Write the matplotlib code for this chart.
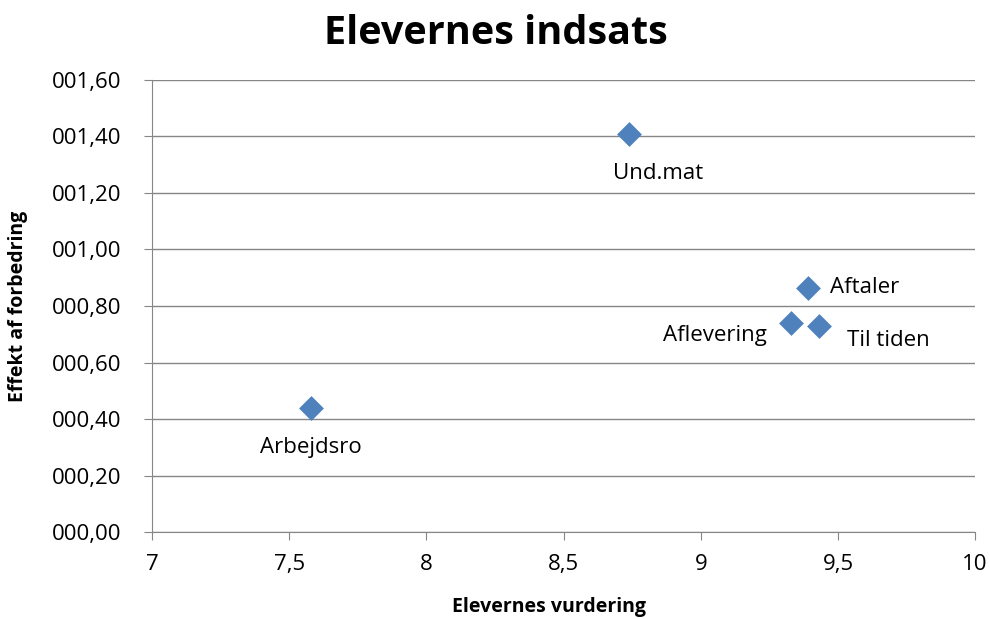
import matplotlib.pyplot as plt
from matplotlib.ticker import FuncFormatter, MultipleLocator

# data
labels = ["Und.mat", "Aftaler", "Aflevering", "Til tiden", "Arbejdsro"]
vurdering = [8.74, 9.39, 9.33, 9.43, 7.58]
effekt = [1.41, 0.865, 0.74, 0.73, 0.44]

# label offsets in pixels (dx, dy, ha)
offsets = [(29, -40, "center"), (22, 0, "left"), (-24, -13, "right"), (28, -15, "left"), (0, -40, "center")]

plt.rcParams['font.family'] = ['Open Sans', 'DejaVu Sans']

fig = plt.figure(figsize=(9.9, 6.19), dpi=100)
ax = fig.add_axes([0.1535, 0.1405, 0.985 - 0.1535, 0.8708 - 0.1405])

ax.scatter(vurdering, effekt, marker='D', s=160, color='#4F81BD', zorder=3, linewidths=0)

for name, x, y, (dx, dy, ha) in zip(labels, vurdering, effekt, offsets):
    ax.annotate(name, (x, y), xytext=(dx, dy), textcoords='offset pixels',
                ha=ha, va='center', fontsize=16, color='black')

ax.set_xlim(7, 10)
ax.set_ylim(0, 1.6)
ax.xaxis.set_major_locator(MultipleLocator(0.5))
ax.yaxis.set_major_locator(MultipleLocator(0.2))
ax.xaxis.set_major_formatter(FuncFormatter(lambda v, p: f"{v:g}".replace('.', ',')))
ax.yaxis.set_major_formatter(FuncFormatter(lambda v, p: f"{v:06.2f}".replace('.', ',')))

ax.grid(axis='y', color='#868686', linewidth=1)
ax.set_axisbelow(True)
for s in ['top', 'right']:
    ax.spines[s].set_visible(False)
for s in ['left', 'bottom']:
    ax.spines[s].set_color('#868686')
ax.tick_params(colors='#868686', labelcolor='black', labelsize=16, length=6, direction='out')
ax.tick_params(axis='y', pad=16)
ax.tick_params(axis='x', pad=10)

fig.text(0.501, 1 - 33 / 619, "Elevernes indsats", fontsize=28.5, fontweight='bold',
         ha='center', va='center')
ax.set_xlabel("Elevernes vurdering", fontsize=14, fontweight='bold')
ax.xaxis.set_label_coords((549 - 152) / 823, (532 - 607) / 452)
ax.xaxis.label.set_va('center')
ax.set_ylabel("Effekt af forbedring", fontsize=14, fontweight='bold')
ax.yaxis.set_label_coords((18 - 152) / 823, 0.5)
ax.yaxis.label.set_va('center')

fig.savefig("out.png", dpi=100)
